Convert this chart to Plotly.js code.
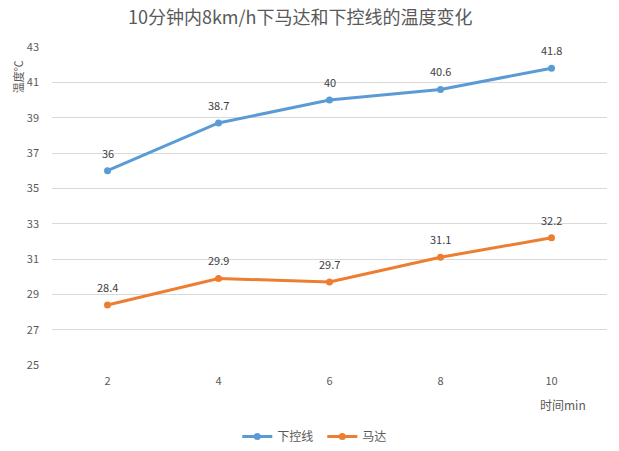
<!DOCTYPE html>
<html>
<head>
<meta charset="utf-8">
<script src="https://cdn.plot.ly/plotly-3.0.1.min.js"></script>
<style>html,body{margin:0;padding:0;background:#fff;}#chart{width:619px;height:451px;}</style>
</head>
<body>
<div id="chart"></div>
<script>
const categories = ['2', '4', '6', '8', '10'];
const xiaKongXian = [36, 38.7, 40, 40.6, 41.8];
const mada = [28.4, 29.9, 29.7, 31.1, 32.2];
const yTicks = [25, 27, 29, 31, 33, 35, 37, 39, 41, 43];

const FONT = '"Noto Sans CJK SC", "Microsoft YaHei", sans-serif';
const blue = '#5B9BD5';
const orange = '#ED7D31';

const traces = [
  {x: categories, y: xiaKongXian, name: '下控线', type: 'scatter', mode: 'lines+markers',
   line: {color: blue, width: 3}, marker: {color: blue, size: 7}},
  {x: categories, y: mada, name: '马达', type: 'scatter', mode: 'lines+markers',
   line: {color: orange, width: 3}, marker: {color: orange, size: 7}}
];

const annotations = [];
[xiaKongXian, mada].forEach(series => {
  series.forEach((v, i) => {
    annotations.push({x: i, y: v, xref: 'x', yref: 'y', text: String(v),
      showarrow: false, yshift: 18, font: {family: FONT, size: 11, color: '#404040'}});
  });
});
annotations.push({xref: 'paper', yref: 'paper', x: -0.061, y: 0.905, xanchor: 'center', yanchor: 'middle',
  text: '温度℃', textangle: -90,
  showarrow: false, font: {family: FONT, size: 11, color: '#595959'}});
annotations.push({xref: 'paper', yref: 'paper', x: 0.92, y: -0.125, xanchor: 'center', yanchor: 'middle',
  text: '时间min', showarrow: false, font: {family: FONT, size: 12, color: '#595959'}});

const layout = {
  width: 619, height: 451,
  margin: {l: 52, r: 12, t: 47, b: 86, autoexpand: false},
  paper_bgcolor: '#fff', plot_bgcolor: '#fff',
  title: {text: '10分钟内8km/h下马达和下控线的温度变化', x: 0.485, xanchor: 'center', y: 0.96, yanchor: 'middle',
    font: {family: FONT, size: 18, color: '#595959'}},
  xaxis: {type: 'category', range: [-0.5, 4.5], showgrid: false, zeroline: false,
    showline: false, ticks: '', ticklabelstandoff: 8,
    tickfont: {family: FONT, size: 11, color: '#595959'}},
  yaxis: {range: [25, 43], tickvals: yTicks, ticktext: yTicks.map(String), showgrid: true,
    gridcolor: '#D9D9D9', gridwidth: 1, zeroline: false, showline: false, ticks: '',
    ticklabelstandoff: 12,
    tickfont: {family: FONT, size: 11, color: '#595959'}},
  showlegend: true,
  legend: {orientation: 'h', x: 0.487, xanchor: 'center', y: -0.225, yanchor: 'middle',
    font: {family: FONT, size: 12, color: '#595959'}, itemwidth: 30, tracegroupgap: 0,
    entrywidth: 40, entrywidthmode: 'pixels'},
  annotations: annotations
};

Plotly.newPlot('chart', traces, layout, {displayModeBar: false, staticPlot: true});
</script>
</body>
</html>
